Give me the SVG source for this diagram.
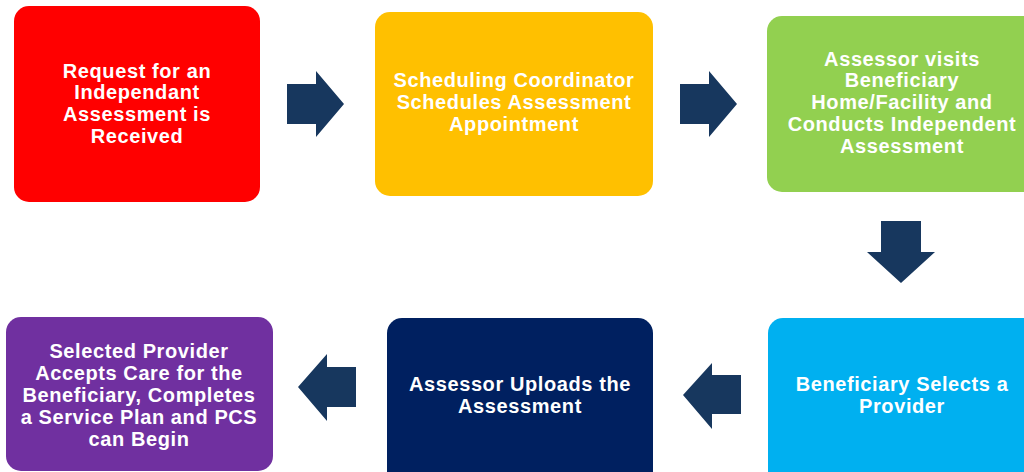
<svg xmlns="http://www.w3.org/2000/svg" width="1024" height="472" viewBox="0 0 1024 472">
<style>
.t{font-family:"Liberation Sans",Arial,sans-serif;font-weight:bold;font-size:20px;letter-spacing:0.6px;fill:#fff;text-anchor:middle}
.ar{fill:#17375E}
</style>
<rect width="1024" height="472" fill="#fff"/>
<g id="n1"><rect x="14" y="6" width="246" height="196" rx="15" fill="#FF0000"/>
<text class="t"><tspan x="137" y="78">Request for an</tspan><tspan x="137" y="99">Independant</tspan><tspan x="137" y="121">Assessment is</tspan><tspan x="137" y="143">Received</tspan></text></g>
<g id="n2"><rect x="375" y="12" width="278" height="184" rx="15" fill="#FFC000"/>
<text class="t"><tspan x="514" y="87">Scheduling Coordinator</tspan><tspan x="514" y="109">Schedules Assessment</tspan><tspan x="514" y="131">Appointment</tspan></text></g>
<g id="n3"><rect x="767" y="16" width="270" height="176" rx="15" fill="#92D050"/>
<text class="t"><tspan x="902" y="66">Assessor visits</tspan><tspan x="902" y="87">Beneficiary</tspan><tspan x="902" y="109">Home/Facility and</tspan><tspan x="902" y="131">Conducts Independent</tspan><tspan x="902" y="153">Assessment</tspan></text></g>
<g id="n4"><rect x="768" y="318" width="270" height="170" rx="15" fill="#00B0F0"/>
<text class="t"><tspan x="902" y="391">Beneficiary Selects a</tspan><tspan x="902" y="413">Provider</tspan></text></g>
<g id="n5"><rect x="387" y="318" width="266" height="170" rx="15" fill="#002060"/>
<text class="t"><tspan x="520" y="391">Assessor Uploads the</tspan><tspan x="520" y="413">Assessment</tspan></text></g>
<g id="n6"><rect x="6" y="317" width="267" height="154" rx="15" fill="#7030A0"/>
<text class="t"><tspan x="139" y="358">Selected Provider</tspan><tspan x="139" y="380">Accepts Care for the</tspan><tspan x="139" y="402">Beneficiary, Completes</tspan><tspan x="139" y="424">a Service Plan and PCS</tspan><tspan x="139" y="446">can Begin</tspan></text></g>
<g id="connectors">
<polygon class="ar" points="287,84 316,84 316,71 344,104 316,137 316,124 287,124"/>
<polygon class="ar" points="680,84 709,84 709,71 737,104 709,137 709,124 680,124"/>
<polygon class="ar" points="881,221 921,221 921,252 935,252 901,283 867,252 881,252"/>
<polygon class="ar" points="741,375 712,375 712,363 683,395 712,429 712,414 741,414"/>
<polygon class="ar" points="356,367 327,367 327,354 298,387 327,421 327,407 356,407"/>
</g>
</svg>
